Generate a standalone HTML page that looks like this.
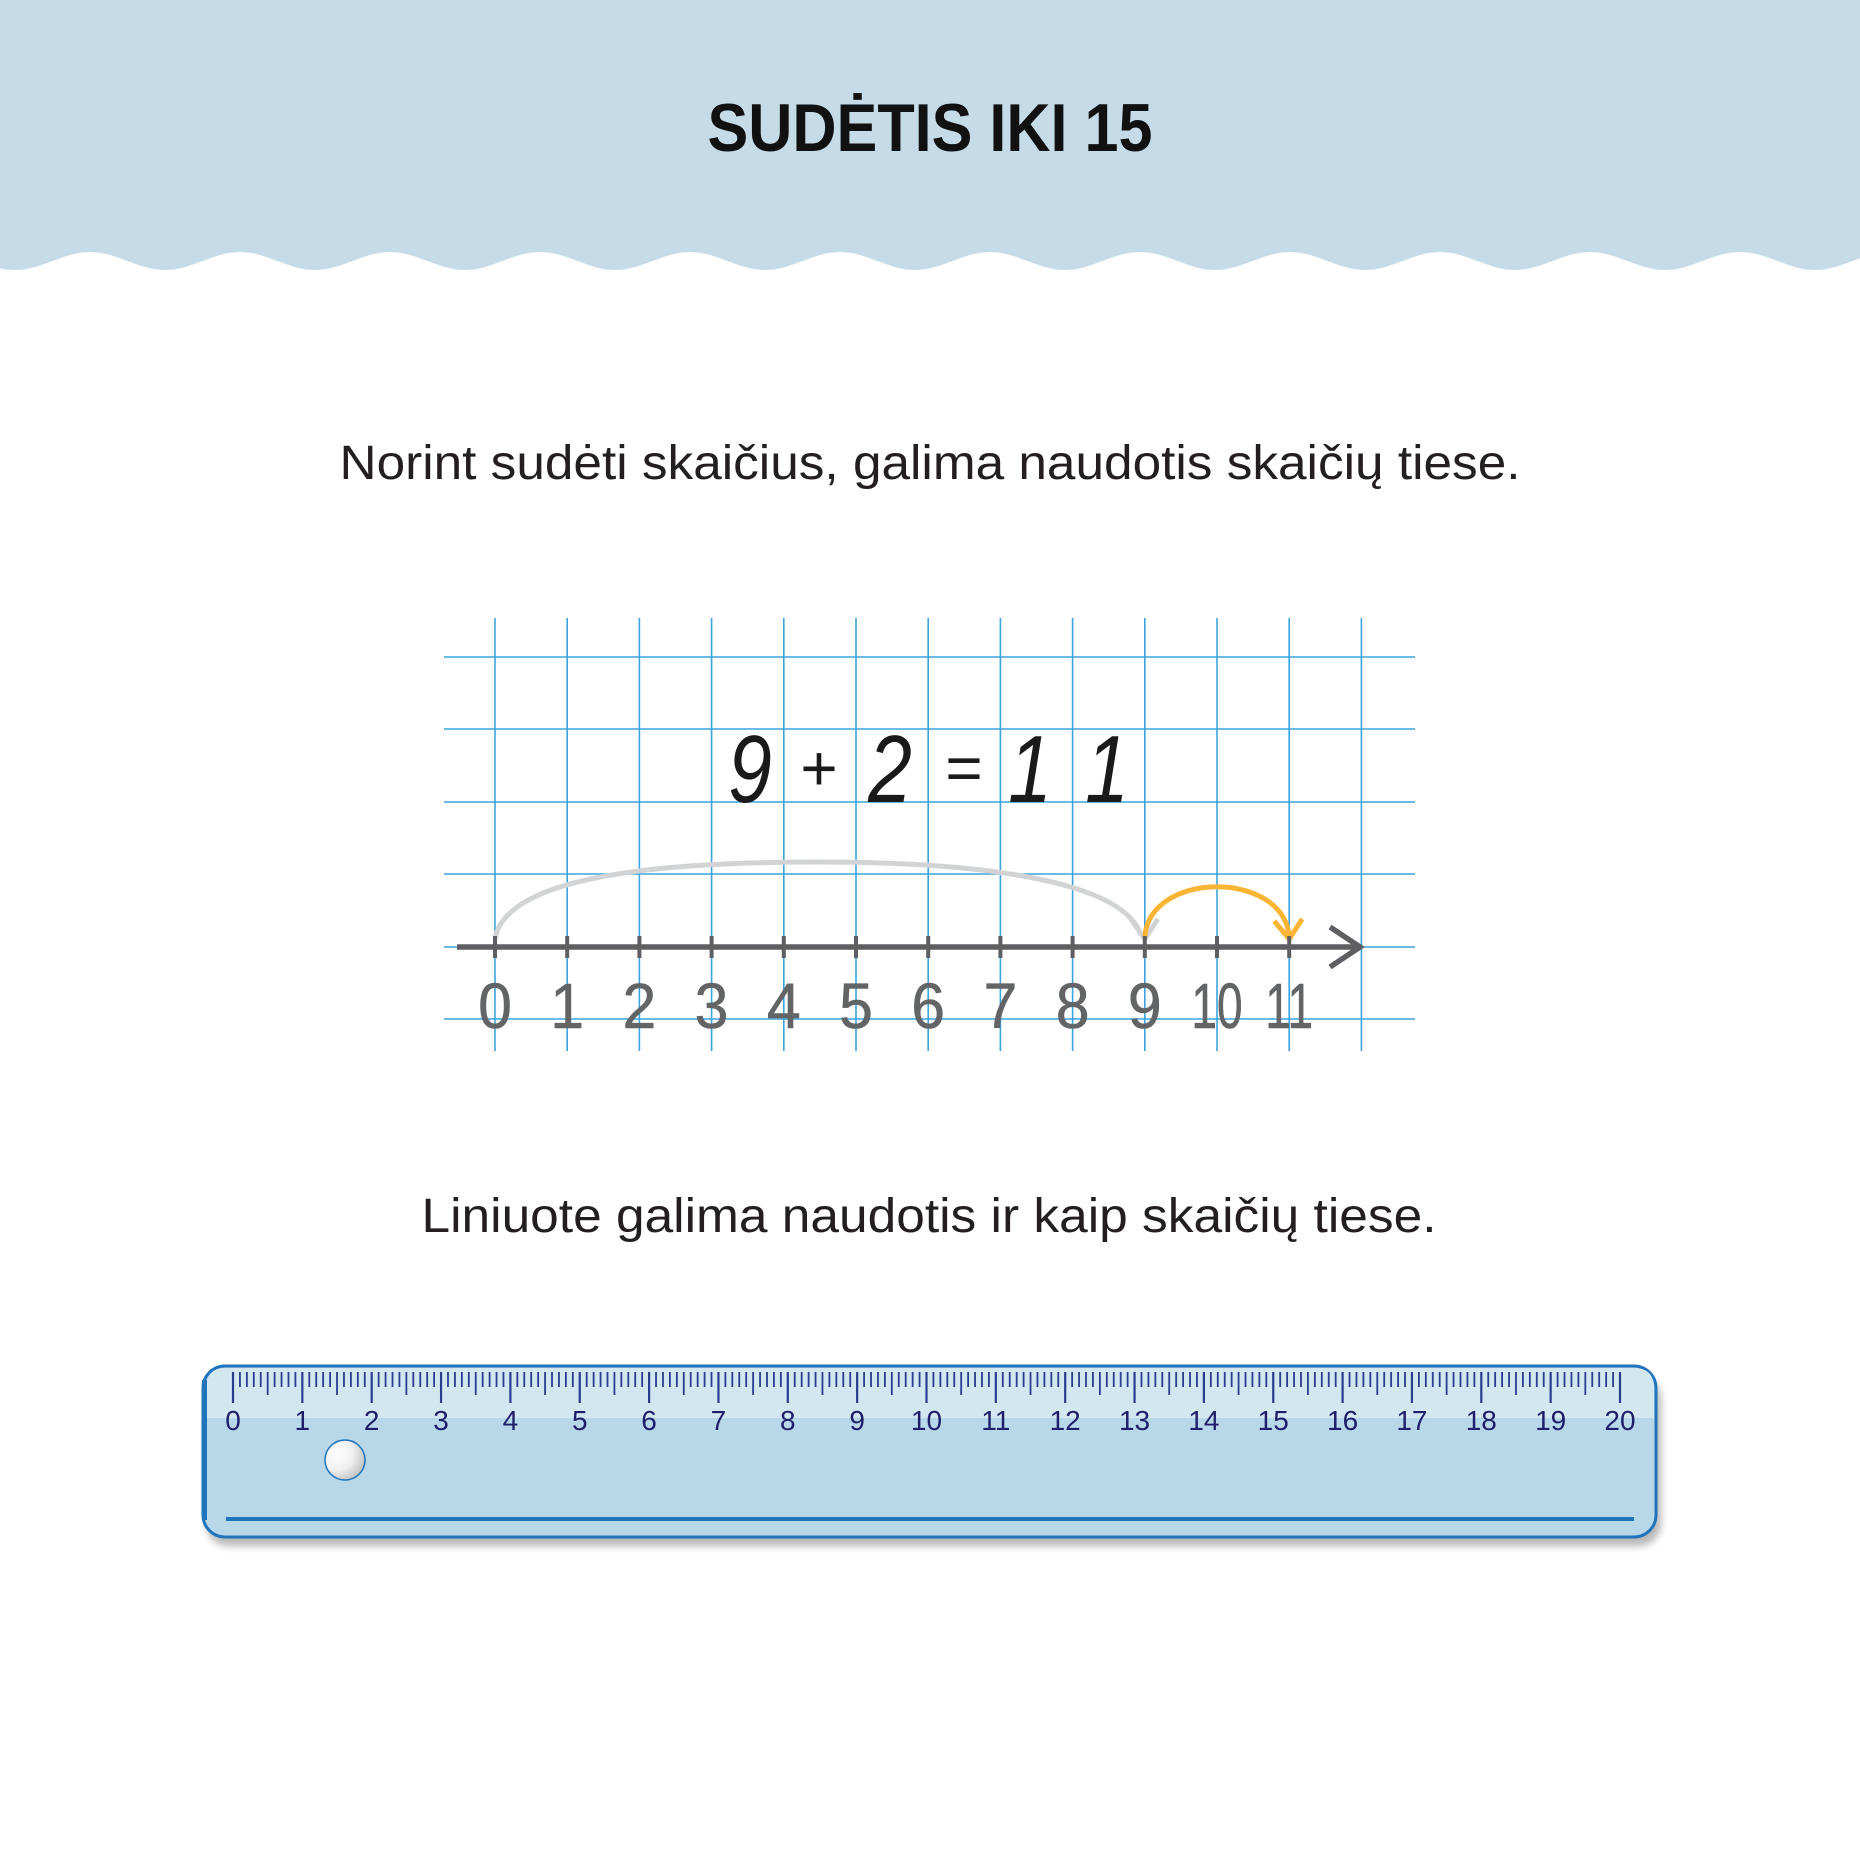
<!DOCTYPE html>
<html><head><meta charset="utf-8">
<style>
html,body{margin:0;padding:0;background:#fff}
svg{display:block}
.t{font-family:"Liberation Sans",sans-serif}
</style></head>
<body>
<svg id="s" width="1860" height="1860" viewBox="0 0 1860 1860" xmlns="http://www.w3.org/2000/svg">
<defs>
<radialGradient id="hole" cx="0.3" cy="0.35" r="0.8"><stop offset="0" stop-color="#ffffff"/><stop offset="0.5" stop-color="#f0f0f0"/><stop offset="1" stop-color="#b9b9b9"/></radialGradient>
<filter id="sh" x="-5%" y="-20%" width="110%" height="150%"><feGaussianBlur stdDeviation="4"/></filter>
</defs>
<path id="band" fill="#c5dbe7" d=""/>
<text class="t" x="930" y="151" text-anchor="middle" font-size="68" font-weight="bold" fill="#111" textLength="445" lengthAdjust="spacingAndGlyphs">SUDĖTIS IKI 15</text>
<text class="t" x="930" y="479" text-anchor="middle" font-size="48" fill="#231f20" textLength="1181" lengthAdjust="spacingAndGlyphs">Norint sudėti skaičius, galima naudotis skaičių tiese.</text>
<g id="grid"></g>
<g id="eq"></g>
<g id="nl"></g>
<text class="t" x="929" y="1232" text-anchor="middle" font-size="48" fill="#231f20" textLength="1015" lengthAdjust="spacingAndGlyphs">Liniuote galima naudotis ir kaip skaičių tiese.</text>
<g id="ruler">
<rect x="206" y="1376" width="1455" height="170" rx="22" fill="#000" opacity="0.28" filter="url(#sh)"/>
<rect x="203" y="1366" width="1453" height="171" rx="22" fill="#b8d7e8" stroke="#1f74bb" stroke-width="3"/>
<path d="M206 1418 L206 1388 Q206 1368 226 1368 L1634 1368 Q1654 1368 1654 1388 L1654 1418 Z" fill="#d3e7f1"/>
<rect x="202" y="1380" width="5" height="140" fill="#1f74bb"/>
<line x1="226" y1="1519" x2="1634" y2="1519" stroke="#1f74bb" stroke-width="4"/>
<ellipse cx="345" cy="1460" rx="20" ry="20" fill="url(#hole)" stroke="#1f74bb" stroke-width="1.5"/>
<g id="rticks"></g>
</g>
</svg>
<script>
const NS="http://www.w3.org/2000/svg";
function mk(tag,attrs,parent){const e=document.createElementNS(NS,tag);for(const k in attrs)e.setAttribute(k,attrs[k]);parent.appendChild(e);return e;}
(function(){let d="M0 0 L1860 0 L1860 261 ";
const P=150,hi=252,lo=270,x0=15;
let pts=[];for(let xx=1860;xx>=0;xx-=5){const y=(hi+lo)/2+(lo-hi)/2*Math.cos(2*Math.PI*(xx-x0)/P);pts.push("L"+xx+" "+y.toFixed(1));}
d+=pts.join(" ")+" Z";document.getElementById('band').setAttribute('d',d);})();

const lineValues=[0,1,2,3,4,5,6,7,8,9,10,11];
const startValue=9, addend=2;
const x0=495, step=72.2, axisY=947;
function X(v){return x0+v*step;}
const grid=document.getElementById('grid');
[657,729,802,874,947,1019].forEach(y=>{const l=mk('line',{x1:444,x2:1415,y1:y,y2:y,stroke:'#3aa3e0','stroke-width':1.6},grid);

});
for(let i=0;i<=12;i++){const l=mk('line',{x1:X(i),x2:X(i),y1:618,y2:1051,stroke:'#3aa3e0','stroke-width':1.6},grid);

}

const eq=document.getElementById('eq');
const eqParts=[["9",750],["+",818],["2",890],["=",963],["1",1030],["1",1107]];
eqParts.forEach(p=>{const sym=(p[0]=='+'||p[0]=='=');
const t=mk('text',{x:p[1],y:sym?790:802,'text-anchor':'middle','font-size':sym?64:96,'font-style':'italic',fill:'#1a1a1a','font-family':'"Liberation Sans",sans-serif',transform:sym?'':`translate(${p[1]} 0) scale(0.82 1) translate(${-p[1]} 0)`},eq);
t.textContent=p[0];

});

const nl=document.getElementById('nl');
const endValue=startValue+addend;
const a1=mk('path',{d:`M${X(0)} ${axisY-8} C${X(0)+10} 880, ${X(2)} 862, ${X(4.5)} 862 C${X(7)} 862, ${X(startValue)-20} 885, ${X(startValue)-4} ${axisY-12}`,fill:'none',stroke:'#d2d3d5','stroke-width':5},nl);


const a1h=mk('path',{d:`M${X(startValue)-14} ${axisY-28} L${X(startValue)} ${axisY-8} L${X(startValue)+13} ${axisY-28}`,fill:'none',stroke:'#d2d3d5','stroke-width':5},nl);


const a2=mk('path',{d:`M${X(startValue)} ${axisY-10} C${X(startValue)+5} 870, ${X(endValue)-5} 870, ${X(endValue)} ${axisY-10}`,fill:'none',stroke:'#fbb534','stroke-width':5},nl);


const a2h=mk('path',{d:`M${X(endValue)-15} ${axisY-26} L${X(endValue)} ${axisY-8} L${X(endValue)+13} ${axisY-28}`,fill:'none',stroke:'#fbb534','stroke-width':5},nl);


const ax=mk('line',{x1:457,x2:1358,y1:axisY,y2:axisY,stroke:'#5f5f63','stroke-width':5.5},nl);


const ah=mk('path',{d:`M1330 927 L1360 947 L1330 967`,fill:'none',stroke:'#5f5f63','stroke-width':5.5},nl);


lineValues.forEach(v=>{
 const t=mk('line',{x1:X(v),x2:X(v),y1:axisY-11,y2:axisY+11,stroke:'#5f5f63','stroke-width':4},nl);
 
 
 const sc=v>=10?0.72:0.95;
 const lb=mk('text',{x:X(v),y:1028,'text-anchor':'middle','font-size':64,fill:'#636466',stroke:'#636466','stroke-width':0.6,'font-family':'"Liberation Sans",sans-serif',transform:`translate(${X(v)} 0) scale(${sc} 1) translate(${-X(v)} 0)`},nl);
 lb.textContent=v;
 
 
});

const rulerLabels=[0,1,2,3,4,5,6,7,8,9,10,11,12,13,14,15,16,17,18,19,20];
const r0=233, rs=69.35;
const rt=document.getElementById('rticks');
for(let m=0;m<=200;m++){
 const x=r0+m*rs/10;
 const y2=m%10==0?1403:(m%5==0?1395:1387);
 const l=mk('line',{x1:x,x2:x,y1:1372,y2:y2,stroke:'#2b3b8f','stroke-width':m%10==0?2.2:1.8},rt);
 
 
}
rulerLabels.forEach(v=>{
 const t=mk('text',{x:r0+v*rs,y:1430,'text-anchor':'middle','font-size':28,fill:'#1e1e6a','font-family':'"Liberation Sans",sans-serif'},rt);
 t.textContent=v;
 
 
});
</script>
</body></html>
